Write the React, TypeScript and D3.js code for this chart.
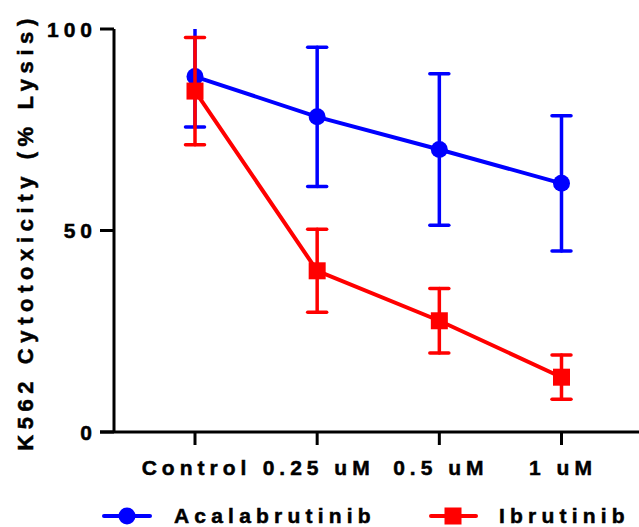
import React from "react";
import * as d3 from "d3";

const categories = ["Control", "0.25 uM", "0.5 uM", "1 uM"];
const acalaMean = [88.2, 78.2, 70.1, 61.7];
const acalaErr = [12.5, 17.3, 18.8, 16.8];
const ibruMean = [84.6, 40.0, 27.6, 13.6];
const ibruErr = [13.3, 10.3, 8.0, 5.5];
const yTicks = [0, 50, 100];
const seriesNames = ["Acalabrutinib", "Ibrutinib"];

const W = 639;
const H = 527;
const FONT = "'Liberation Sans', Arial, Helvetica, sans-serif";

export default function App() {
  const x = d3.scalePoint<string>().domain(categories).range([195, 561.5]);
  const y = d3.scaleLinear().domain([0, 100]).range([432, 29]);
  const axisX = 114;
  const axisY = y(0);

  const line = d3
    .line<number>()
    .x((_, i) => x(categories[i]) as number)
    .y((d) => y(d));

  const series = [
    { name: seriesNames[0], mean: acalaMean, err: acalaErr, color: "#0000FF", shape: "circle" },
    { name: seriesNames[1], mean: ibruMean, err: ibruErr, color: "#FF0000", shape: "square" },
  ];

  const capW = 9.5;
  const ls = 5;
  const textStroke = { stroke: "#000", strokeWidth: 0.5 };

  return (
    <svg
      width={W}
      height={H}
      viewBox={`0 0 ${W} ${H}`}
      style={{ position: "absolute", left: 0, top: 0, background: "#fff" }}
      fontFamily={FONT}
      fontWeight="bold"
    >
      <defs>
        <clipPath id="plotClip">
          <rect x={axisX} y={y(100)} width={W - axisX} height={axisY - y(100) + 20} />
        </clipPath>
      </defs>
      {/* axes */}
      <line x1={axisX} x2={axisX} y1={y(100)} y2={axisY} stroke="#000" strokeWidth={3} />
      <line x1={100} x2={W} y1={axisY} y2={axisY} stroke="#000" strokeWidth={3} />
      {yTicks.map((t) => (
        <g key={t}>
          <line x1={100} x2={axisX} y1={y(t)} y2={y(t)} stroke="#000" strokeWidth={3} />
          <text
            x={97}
            y={y(t)}
            dy="0.36em"
            textAnchor="end"
            fontSize={21}
            letterSpacing={ls}
            fill="#000"
            {...textStroke}
          >
            {t}
          </text>
        </g>
      ))}
      {categories.map((c) => (
        <g key={c}>
          <line
            x1={x(c)}
            x2={x(c)}
            y1={axisY}
            y2={axisY + 13}
            stroke="#000"
            strokeWidth={3}
          />
          <text
            x={(x(c) as number) + ls / 2 - 1}
            y={475}
            textAnchor="middle"
            fontSize={21}
            letterSpacing={ls}
            fill="#000"
            {...textStroke}
          >
            {c}
          </text>
        </g>
      ))}
      <text
        transform={`translate(33, ${232}) rotate(-90)`}
        textAnchor="middle"
        fontSize={22}
        letterSpacing={5.6}
        fill="#000"
        {...textStroke}
      >
        K562 Cytotoxicity (% Lysis)
      </text>

      {/* series */}
      <g clipPath="url(#plotClip)">
        {series.map((s) => (
          <g key={s.name}>
            {s.mean.map((m, i) => {
              const cx = x(categories[i]) as number;
              const top = y(m + s.err[i]);
              const bot = y(m - s.err[i]);
              return (
                <g key={i} stroke={s.color} strokeWidth={3.5} strokeLinecap="round">
                  <line x1={cx} x2={cx} y1={top} y2={bot} />
                  <line x1={cx - capW} x2={cx + capW} y1={top} y2={top} />
                  <line x1={cx - capW} x2={cx + capW} y1={bot} y2={bot} />
                </g>
              );
            })}
            <path d={line(s.mean) || ""} fill="none" stroke={s.color} strokeWidth={4} />
            {s.mean.map((m, i) => {
              const cx = x(categories[i]) as number;
              const cy = y(m);
              return s.shape === "circle" ? (
                <circle key={i} cx={cx} cy={cy} r={8.5} fill={s.color} />
              ) : (
                <rect key={i} x={cx - 8.5} y={cy - 8.5} width={17} height={17} fill={s.color} />
              );
            })}
          </g>
        ))}
      </g>

      {/* legend */}
      <g>
        <line x1={104} x2={150} y1={516} y2={516} stroke="#0000FF" strokeWidth={4} strokeLinecap="round" />
        <circle cx={127} cy={516} r={8.5} fill="#0000FF" />
        <text x={174} y={523} fontSize={21} letterSpacing={5.2} fill="#000" {...textStroke}>
          {seriesNames[0]}
        </text>
        <line x1={431} x2={476} y1={516} y2={516} stroke="#FF0000" strokeWidth={4} strokeLinecap="round" />
        <rect x={453 - 8.5} y={516 - 8.5} width={17} height={17} fill="#FF0000" />
        <text x={499} y={523} fontSize={21} letterSpacing={5.2} fill="#000" {...textStroke}>
          {seriesNames[1]}
        </text>
      </g>
    </svg>
  );
}
